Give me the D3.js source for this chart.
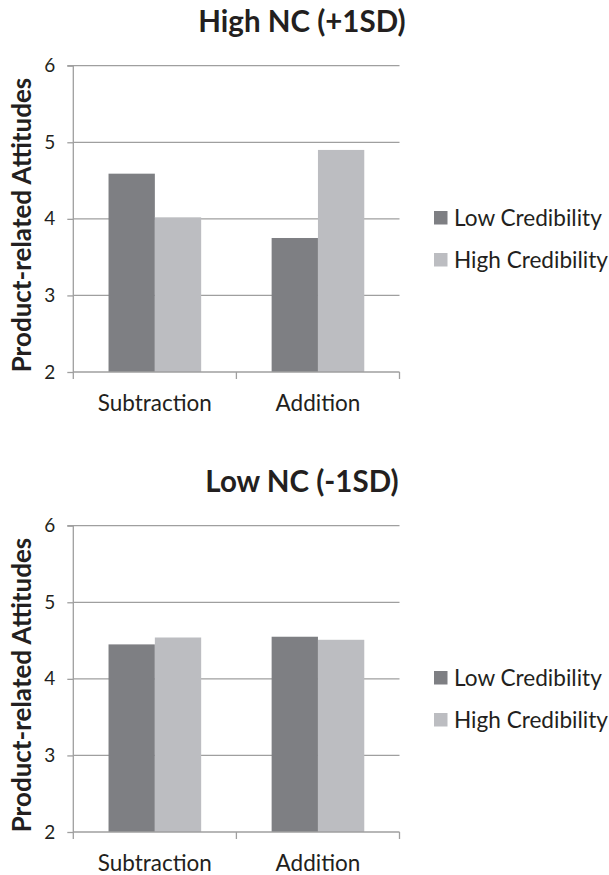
<!DOCTYPE html>
<html>
<head>
<meta charset="utf-8">
<script src="https://cdn.jsdelivr.net/npm/d3@7"></script>
<style>
  html, body { margin: 0; padding: 0; background: #fff; }
  svg { display: block; }
  text { font-family: Lato, "Open Sans", sans-serif; fill: #231f20; }
</style>
</head>
<body>
<script>
const categories = ["Subtraction", "Addition"];
const seriesNames = ["Low Credibility", "High Credibility"];
const seriesColors = ["#7e7f83", "#bcbdc1"];
const panelTitles = ["High NC (+1SD)", "Low NC (-1SD)"];
const highNCLow = [4.59, 3.75];
const highNCHigh = [4.02, 4.90];
const lowNCLow = [4.45, 4.55];
const lowNCHigh = [4.54, 4.51];
const yTicks = [2, 3, 4, 5, 6];
const yLabel = "Product-related Attitudes";

const panels = [
  { title: panelTitles[0], series: [highNCLow, highNCHigh] },
  { title: panelTitles[1], series: [lowNCLow, lowNCHigh] }
];

const W = 609, H = 875;
const svg = d3.select("body").append("svg").attr("width", W).attr("height", H);

const pLeft = 73.3, pRight = 399.5, pTop = 65.7, pBottom = 372;
const panelOffset = 460;
const gridColor = "#9f9f9f";

const y = d3.scaleLinear().domain([2, 6]).range([pBottom, pTop]);
const x0 = d3.scaleBand().domain(categories).range([pLeft, pRight]).paddingInner(0).paddingOuter(0);
const bw = x0.bandwidth();
const x1 = d3.scaleBand().domain(seriesNames).range([bw * 0.216, bw * 0.784]).padding(0);

panels.forEach((p, pi) => {
  const g = svg.append("g").attr("transform", `translate(0,${pi * panelOffset})`);

  // gridlines
  g.append("g").selectAll("line").data(yTicks.filter(t => t !== 2)).join("line")
    .attr("x1", pLeft).attr("x2", pRight)
    .attr("y1", d => y(d)).attr("y2", d => y(d))
    .attr("stroke", gridColor).attr("stroke-width", 1.3);

  // bars
  const groups = g.append("g").selectAll("g").data(categories).join("g")
    .attr("transform", d => `translate(${x0(d)},0)`);
  groups.selectAll("rect")
    .data((c, ci) => seriesNames.map((s, si) => ({ s, si, v: p.series[si][ci] })))
    .join("rect")
    .attr("x", d => x1(d.s))
    .attr("width", x1.bandwidth())
    .attr("y", d => y(d.v))
    .attr("height", d => y(2) - y(d.v))
    .attr("fill", d => seriesColors[d.si]);

  // y axis
  const yAxis = d3.axisLeft(y).tickValues(yTicks).tickSize(6).tickPadding(12).tickFormat(d3.format("d"));
  const ya = g.append("g").attr("transform", `translate(${pLeft},0)`).call(yAxis);
  ya.select(".domain").attr("stroke", gridColor).attr("stroke-width", 1.3).attr("d", `M-6,${pTop}H0V${pBottom}`);
  ya.selectAll(".tick line").attr("stroke", gridColor).attr("stroke-width", 1.3);
  ya.selectAll(".tick text").attr("font-size", 19).attr("font-family", "Lato").attr("fill", "#231f20");

  // x axis
  const xAxis = d3.axisBottom(x0).tickSize(0).tickPadding(23.5);
  const xa = g.append("g").attr("transform", `translate(0,${pBottom})`).call(xAxis);
  xa.select(".domain").attr("stroke", gridColor).attr("stroke-width", 1.3).attr("d", `M${pLeft},0H${pRight}`);
  xa.selectAll(".tick text").attr("font-size", 22.5).attr("font-family", "Lato").attr("fill", "#231f20");
  // category boundary ticks
  const bounds = [pLeft].concat(categories.map(c => x0(c) + bw));
  xa.append("g").selectAll("line").data(bounds).join("line")
    .attr("x1", d => d).attr("x2", d => d).attr("y1", 0).attr("y2", 7)
    .attr("stroke", gridColor).attr("stroke-width", 1.3);

  // title
  g.append("text").attr("x", 302).attr("y", 31.5).attr("text-anchor", "middle")
    .attr("font-size", 29.5).attr("font-weight", "bold").text(p.title);

  // y label
  g.append("text").attr("transform", `translate(31,225) rotate(-90)`)
    .attr("text-anchor", "middle").attr("font-size", 26).attr("font-weight", "bold").text(yLabel);

  // legend
  const lg = g.append("g").selectAll("g").data(seriesNames).join("g")
    .attr("transform", (d, i) => `translate(434,${211 + i * 42})`);
  lg.append("rect").attr("width", 13.5).attr("height", 13.5).attr("fill", (d, i) => seriesColors[i]);
  lg.append("text").attr("x", 20).attr("y", 7).attr("dy", "0.36em")
    .attr("font-size", 22.6).text(d => d);
});
</script>
</body>
</html>
